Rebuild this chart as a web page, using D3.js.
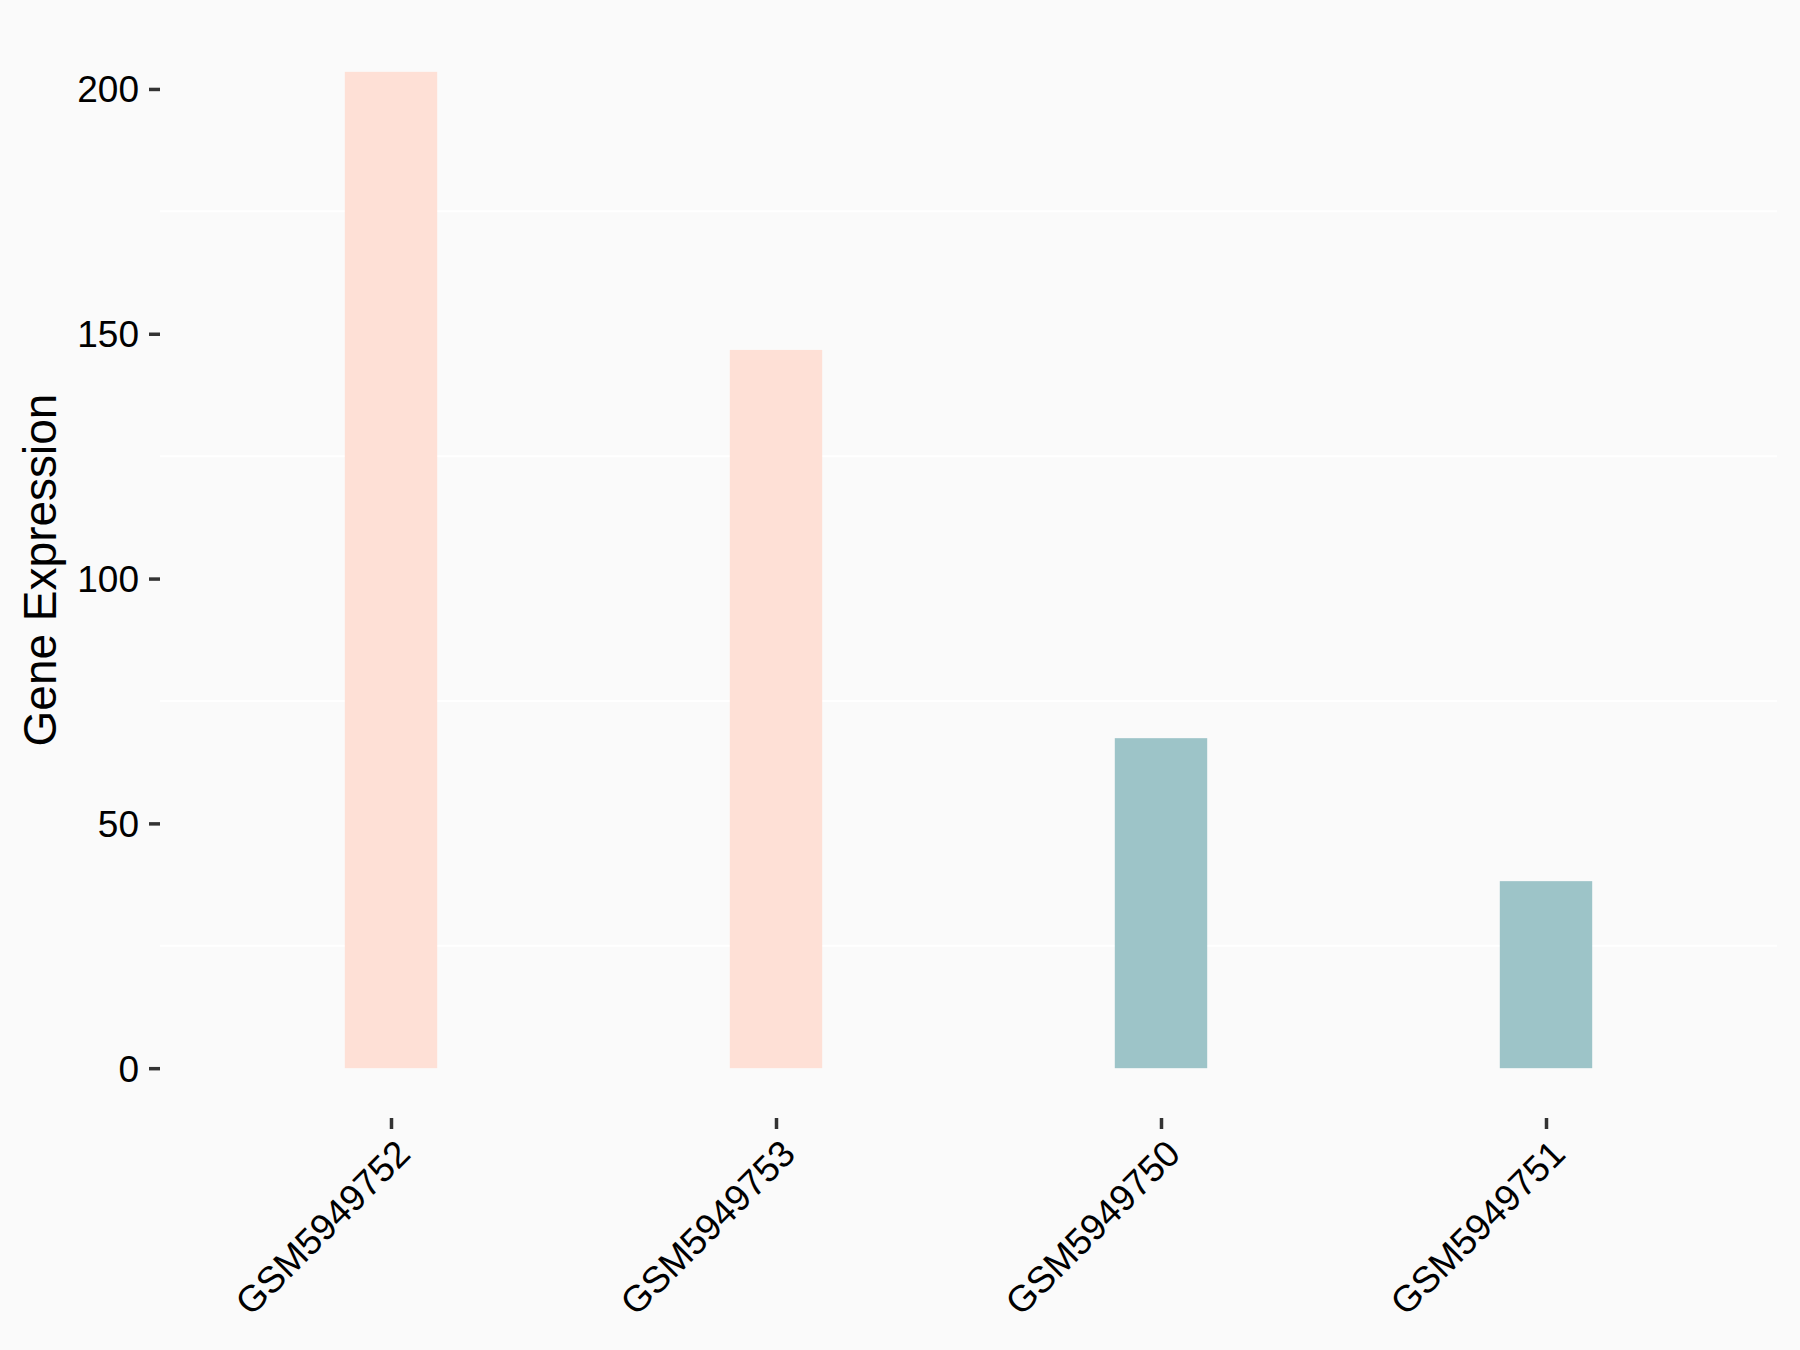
<!DOCTYPE html>
<html>
<head>
<meta charset="utf-8">
<script src="https://cdn.jsdelivr.net/npm/d3@7"></script>
<style>
  html, body { margin: 0; padding: 0; background: #FAFAFA; }
  svg { display: block; }
</style>
</head>
<body>
<svg id="chart" width="1800" height="1350"></svg>
<script>
const categories = ["GSM5949752", "GSM5949753", "GSM5949750", "GSM5949751"];
const values = [203.5, 146.7, 67.4, 38.2];
const groups = ["high", "high", "low", "low"];
const groupColors = { high: "#FEE0D6", low: "#9DC4C8" };
const yTicks = [0, 50, 100, 150, 200];
const yMinorTicks = [25, 75, 125, 175];
const yTitle = "Gene Expression";

const W = 1800, H = 1350;
const panel = { left: 160, right: 1777, top: 22, bottom: 1118 };
const font = "'Liberation Sans', Arial, sans-serif";

const svg = d3.select("#chart");
svg.append("rect").attr("width", W).attr("height", H).attr("fill", "#FAFAFA");

const maxV = d3.max(values);
const y = d3.scaleLinear()
  .domain([-0.05 * maxV, maxV * 1.05])
  .range([panel.bottom, panel.top]);

const x = d3.scalePoint()
  .domain(categories)
  .range([panel.left, panel.right])
  .padding(0.6);
const barW = x.step() * 0.24;

// minor gridlines
svg.append("g").selectAll("line").data(yMinorTicks).join("line")
  .attr("x1", panel.left).attr("x2", panel.right)
  .attr("y1", d => y(d)).attr("y2", d => y(d))
  .attr("stroke", "#FFFFFF").attr("stroke-width", 2);

// bars
svg.append("g").selectAll("rect").data(categories).join("rect")
  .attr("x", (d) => x(d) - barW / 2)
  .attr("width", barW)
  .attr("y", (d, i) => y(values[i]))
  .attr("height", (d, i) => y(0) - y(values[i]))
  .attr("fill", (d, i) => groupColors[groups[i]]);

// y axis
const yAxis = d3.axisLeft(y).tickValues(yTicks).tickSize(11).tickPadding(10).tickFormat(d3.format("d"));
const gy = svg.append("g").attr("transform", `translate(${panel.left},0)`).call(yAxis);
gy.select(".domain").remove();
gy.selectAll(".tick line").attr("stroke", "#333333").attr("stroke-width", 3.5);
gy.selectAll(".tick text")
  .attr("font-family", font).attr("font-size", 37).attr("fill", "#000")
  .attr("dy", "0.35em");

// x axis
const xAxis = d3.axisBottom(x).tickSize(11).tickPadding(0);
const gx = svg.append("g").attr("transform", `translate(0,${panel.bottom})`).call(xAxis);
gx.select(".domain").remove();
gx.selectAll(".tick line").attr("stroke", "#333333").attr("stroke-width", 3.5);
gx.selectAll(".tick text")
  .attr("font-family", font).attr("font-size", 37).attr("fill", "#000")
  .attr("text-anchor", "end")
  .attr("y", 0).attr("dy", 0)
  .attr("transform", "translate(2.5,19.5) rotate(-45) translate(0,26)");

// y title
svg.append("text")
  .attr("transform", `translate(56,${(panel.top + panel.bottom) / 2}) rotate(-90)`)
  .attr("text-anchor", "middle")
  .attr("font-family", font).attr("font-size", 46).attr("fill", "#000")
  .text(yTitle);
</script>
</body>
</html>
